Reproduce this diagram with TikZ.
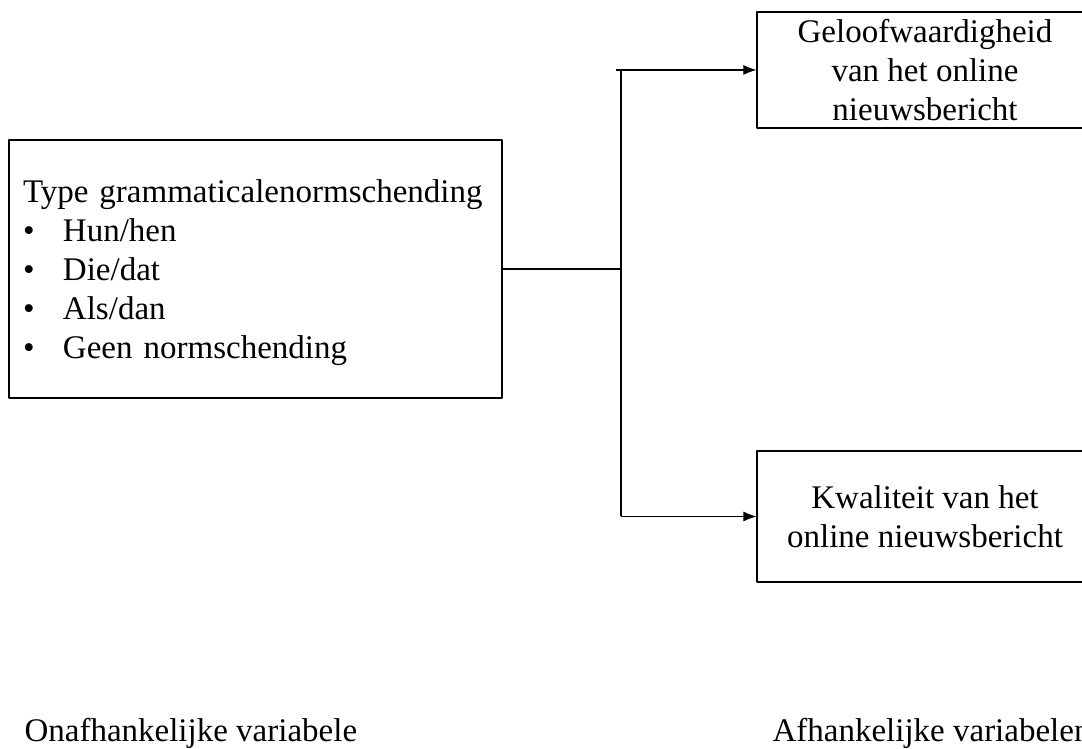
\documentclass[tikz,border=0pt]{standalone}
\usepackage{fontspec}
\setmainfont{Liberation Serif}
\usetikzlibrary{arrows.meta}

\begin{document}
\begin{tikzpicture}[line join=bevel,line width=1.1bp,
  every node/.append style={font=\fontsize{33bp}{39bp}\selectfont},
  varbox/.style={draw,line width=1.2bp,inner sep=0pt,align=center},
  feed/.style={-{Latex[length=13bp,width=10bp]}}]
\path[use as bounding box,clip] (0bp,0bp) rectangle (1082bp,749bp);
%%
\node (node_iv) at (255.5bp,480.0bp) [varbox,align=left,text width=465bp,inner xsep=14bp,
  minimum width=493bp,minimum height=258bp] {\rule{0pt}{30bp}Type grammaticalenormschending\\
  \makebox[40bp][l]{\textbullet}Hun/hen\\
  \makebox[40bp][l]{\textbullet}Die/dat\\
  \makebox[40bp][l]{\textbullet}Als/dan\\
  \makebox[40bp][l]{\textbullet}Geen normschending};
  \node (node_dv1) at (925.0bp,679.0bp) [varbox,minimum width=336bp,minimum height=116bp] {Geloofwaardigheid\\van het online\\nieuwsbericht};
  \node (node_dv2) at (925.0bp,232.5bp) [varbox,minimum width=336bp,minimum height=131bp] {Kwaliteit van het\\online nieuwsbericht};
  \node (node_ivlabel) at (24.0bp,8.0bp) [anchor=base west,inner sep=0pt] {Onafhankelijke variabele};
  \node (node_dvlabel) at (772.0bp,8.0bp) [anchor=base west,inner sep=0pt] {Afhankelijke variabelen};
  \coordinate (node_hub) at (621.0bp,480.0bp);
  \coordinate (node_tap) at (616.0bp,679.0bp);
  \draw [black] (node_iv.east) -- (node_hub);
  \draw [black] (node_hub |- node_dv1.west) -- (node_hub |- node_dv2.west);
  \draw [black,feed] (node_tap) -- (node_dv1.west);
  \draw [black,feed] (node_hub |- node_dv2.west) -- (node_dv2.west);
%
\end{tikzpicture}
\end{document}
